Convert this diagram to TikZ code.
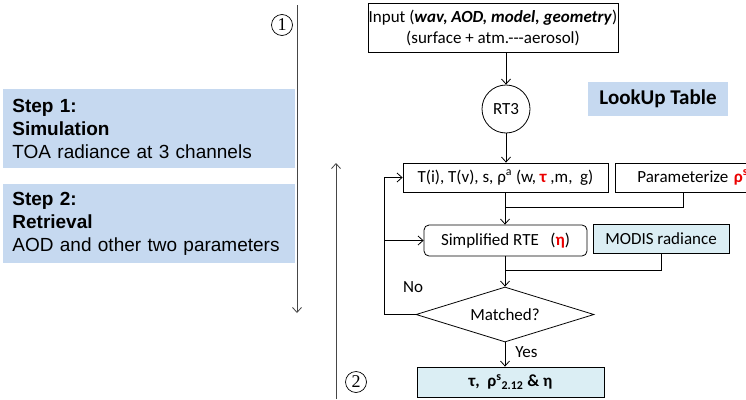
\documentclass[tikz,border=0pt]{standalone}
\usepackage{fontspec}
\setmainfont{Carlito}
\newfontfamily\arialfont{Liberation Sans}
\newfontfamily\numfont{Liberation Serif}
\usetikzlibrary{arrows.meta,shapes.geometric,calc}
\definecolor{stepblue}{RGB}{198,217,240}
\definecolor{paleblue}{RGB}{219,238,244}
\definecolor{hot}{RGB}{235,0,0}
\definecolor{guide}{RGB}{70,70,70}

\begin{document}
\begin{tikzpicture}[x=1pt,y=-1pt,
  font=\fontsize{17}{21}\selectfont,
  line width=0.8pt,
  >={Straight Barb[length=5pt,width=9pt]},
  flowbox/.style={draw, inner sep=0pt, align=center},
  stepbox/.style={fill=stepblue, anchor=north west, inner xsep=9pt, inner ysep=0pt,
    text width=274pt, minimum height=79pt, align=left,
    font=\arialfont\fontsize{19}{22.8}\selectfont},
  marker/.style={circle, draw, line width=0.7pt, minimum size=21pt, inner sep=0pt,
    font=\numfont\fontsize{18}{18}\selectfont}]

\useasboundingbox (0,0) rectangle (746,399);
\clip (0,0) rectangle (746,399);

% two stages of the method
\node[stepbox] (step1) at (3,89) {\textbf{Step 1:}\\\textbf{Simulation}\\TOA radiance at 3 channels};
\node[stepbox] (step2) at (3,184) {\textbf{Step 2:}\\\textbf{Retrieval}\\AOD and other two parameters};

% direction guides
\coordinate (g1a) at (297,5);
\coordinate (g1b) at (297,313);
\draw[->, guide] (g1a) -- (g1b);
\coordinate (g2a) at (336,399);
\coordinate (g2b) at (336,163);
\draw[->, guide] (g2a) -- (g2b);
\node[marker] (m1) at (282,25) {1};
\node[marker] (m2) at (356,382) {2};

% flowchart
\node[flowbox, minimum width=250pt, minimum height=49pt] (input) at (493,27.5)
  {Input (\textbf{\textit{wav, AOD, model, geometry}})\\(surface + atm.-{}-{}-aerosol)};
\node[draw, circle, minimum size=48pt, inner sep=0pt] (rt3) at (506,109) {RT3};
\node[fill=stepblue, minimum width=140pt, minimum height=34pt, inner sep=0pt,
  font=\bfseries\fontsize{21}{21}\selectfont] (lut) at (658,99) {LookUp Table};

\node[flowbox, minimum width=205pt, minimum height=29pt] (tbox) at (505.5,177.5)
  {T(i), T(v), s, ρ\textsuperscript{a} (w, \textbf{\color{hot}τ} ,m,\ \ g)};
\node[draw, anchor=west, minimum height=29pt, inner xsep=22pt, inner ysep=0pt,
  text width=140pt, align=left] (param) at (615,177.5)
  {Parameterize \textbf{\color{hot}ρ\textsuperscript{s}}};

\node[flowbox, rounded corners=5pt, minimum width=163pt, minimum height=31pt] (rte) at (505.5,240.5)
  {Simplified RTE\ \ \ (\textbf{\color{hot}η})};
\node[flowbox, fill=paleblue, minimum width=136pt, minimum height=29pt] (modis) at (661,238.5)
  {MODIS radiance};

\node[draw, diamond, aspect=3.24, minimum width=178pt, minimum height=55pt, inner sep=0pt] (match)
  at (505,314.5) {Matched?};
\node[flowbox, fill=paleblue, minimum width=187pt, minimum height=30pt] (result) at (510.5,382)
  {\textbf{τ,\ \ ρ\textsuperscript{s}\textsubscript{2.12} \& η}};

\node[anchor=west, inner sep=0pt] (yes) at (515,352) {Yes};
\node[inner sep=0pt] (no) at (413,287) {No};

% connectors
\draw[->] (input.south -| rt3) -- (rt3.north);
\draw[->] (rt3.south) -- (rt3.south |- tbox.north);
\coordinate (j1) at (505,207);
\draw[->] (tbox.south -| j1) -- (rte.north -| j1);
\draw ([xshift=68pt]param.south west) |- (j1);
\coordinate (j2) at (505,270);
\draw[->] (rte.south -| j2) -- (match.north);
\draw (modis.south) |- (j2);
\draw[->] (match.south) -- (match.south |- result.north);
\coordinate (lp) at (384,314.5);
\draw[->] (match.west) -| (lp |- tbox.west) -- (tbox.west);
\draw[->] (lp |- rte.west) -- (rte.west);
\end{tikzpicture}
\end{document}
